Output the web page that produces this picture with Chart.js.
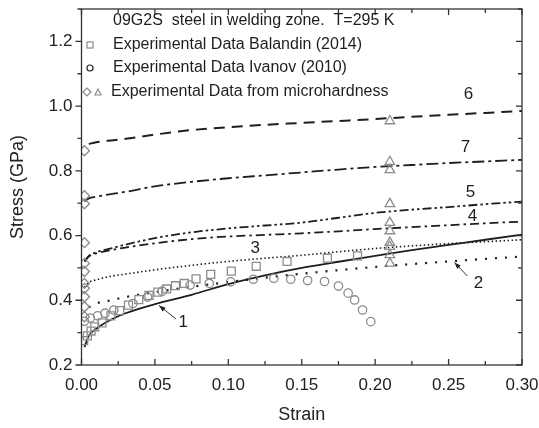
<!DOCTYPE html>
<html>
<head>
<meta charset="utf-8">
<script src="https://cdn.jsdelivr.net/npm/chart.js@4.4.1/dist/chart.umd.min.js"></script>
<style>
  html, body { margin: 0; padding: 0; background: #fff; }
  #wrap { width: 539px; height: 428px; }
</style>
</head>
<body>
<div id="wrap"><canvas id="stressChart"></canvas></div>
<script>
const strainGrid = [0.002, 0.005, 0.01, 0.02, 0.03, 0.05, 0.075, 0.1, 0.125, 0.15, 0.175, 0.2, 0.225, 0.25, 0.275, 0.3];

// model curves 1..7 (GPa)
const curve1 = [0.255, 0.29, 0.312, 0.34, 0.36, 0.388, 0.417, 0.45, 0.477, 0.5, 0.519, 0.537, 0.555, 0.571, 0.587, 0.603];
const curve2 = [null, 0.378, 0.39, 0.4, 0.41, 0.425, 0.442, 0.456, 0.47, 0.482, 0.493, 0.503, 0.512, 0.52, 0.528, 0.535];
const curve3 = [0.44, 0.455, 0.463, 0.474, 0.481, 0.494, 0.508, 0.52, 0.53, 0.539, 0.55, 0.56, 0.568, 0.575, 0.581, 0.587];
const curve4 = [0.52, 0.535, 0.545, 0.555, 0.563, 0.576, 0.589, 0.597, 0.602, 0.607, 0.613, 0.62, 0.626, 0.632, 0.638, 0.643];
const curve5 = [0.52, 0.537, 0.548, 0.56, 0.572, 0.592, 0.61, 0.622, 0.631, 0.64, 0.655, 0.67, 0.68, 0.688, 0.697, 0.705];
const curve6 = [null, 0.883, 0.888, 0.894, 0.899, 0.912, 0.926, 0.935, 0.942, 0.948, 0.954, 0.96, 0.967, 0.973, 0.979, 0.985];
const curve7 = [0.705, 0.715, 0.72, 0.728, 0.735, 0.752, 0.766, 0.777, 0.786, 0.795, 0.804, 0.812, 0.818, 0.824, 0.829, 0.834];

// Balandin (2014), squares
const balandinStrain = [0.0015, 0.004, 0.0065, 0.009, 0.014, 0.02, 0.026, 0.032, 0.039, 0.046, 0.052, 0.058, 0.064, 0.07, 0.078, 0.088, 0.102, 0.119, 0.14, 0.1675, 0.188];
const balandinStress = [0.275, 0.29, 0.305, 0.318, 0.33, 0.352, 0.368, 0.385, 0.402, 0.415, 0.425, 0.435, 0.445, 0.452, 0.466, 0.48, 0.49, 0.505, 0.52, 0.53, 0.537];

// Ivanov (2010), circles
const ivanovStrain = [0.002, 0.006, 0.011, 0.016, 0.022, 0.035, 0.045, 0.055, 0.074, 0.087, 0.1016, 0.117, 0.131, 0.1425, 0.154, 0.1655, 0.175, 0.1816, 0.186, 0.1914, 0.197];
const ivanovStress = [0.335, 0.345, 0.352, 0.36, 0.37, 0.39, 0.41, 0.428, 0.447, 0.452, 0.457, 0.465, 0.468, 0.465, 0.461, 0.458, 0.444, 0.422, 0.401, 0.37, 0.334];

// microhardness: diamonds at small strain, triangles at 0.21
const diamondStrain = 0.002;
const diamondStress = [0.862, 0.723, 0.698, 0.578, 0.514, 0.489, 0.452, 0.437, 0.411, 0.38, 0.349];
const triangleStrain = 0.21;
const triangleStress = [0.954, 0.828, 0.803, 0.698, 0.64, 0.614, 0.578, 0.566, 0.54, 0.514];

const xTicks = [0, 0.05, 0.1, 0.15, 0.2, 0.25, 0.3];
const yTicks = [0.2, 0.4, 0.6, 0.8, 1.0, 1.2];

const pts = (xs, ys) => xs.map((x, i) => ({ x: x, y: ys[i] })).filter(p => p.y !== null);
const curvePts = ys => pts(strainGrid, ys);

const lineCol = '#1e1e1e';
const markCol = '#8c8c8c';
const font = 'Liberation Sans, Arial, sans-serif';

function markerSet(data, style, radius) {
    return {
        data: data, showLine: false, pointStyle: style, pointRadius: radius,
        borderColor: markCol, backgroundColor: 'rgba(0,0,0,0)', pointBorderWidth: 1.3
    };
}
function curveSet(ys, dash, width) {
    return {
        data: curvePts(ys), showLine: true, pointRadius: 0, borderColor: lineCol,
        borderWidth: width, borderDash: dash, tension: 0.4, cubicInterpolationMode: 'monotone'
    };
}

// frame, tick marks, curve numbers, arrows and legend
const decor = {
    id: 'decor',
    afterDatasetsDraw(chart) {
        const c = chart.ctx, a = chart.chartArea;
        const xs = chart.scales.x, ys = chart.scales.y;
        c.save();
        c.strokeStyle = '#333';
        c.lineWidth = 1.3;
        c.strokeRect(a.left, a.top, a.right - a.left, a.bottom - a.top);
        c.beginPath();
        for (let v = 0; v <= 0.3001; v += 0.025) {
            const px = xs.getPixelForValue(v);
            const len = Math.abs(v / 0.05 - Math.round(v / 0.05)) < 1e-6 ? 6 : 4;
            c.moveTo(px, a.bottom); c.lineTo(px, a.bottom - len);
            c.moveTo(px, a.top); c.lineTo(px, a.top + len);
        }
        for (let v = 0.2; v <= 1.3001; v += 0.1) {
            const py = ys.getPixelForValue(v);
            const len = Math.abs(v / 0.2 - Math.round(v / 0.2)) < 1e-6 ? 6 : 4;
            c.moveTo(a.left, py); c.lineTo(a.left - len, py);
            c.moveTo(a.right, py); c.lineTo(a.right - len, py);
        }
        c.stroke();

        // curve numbers
        c.fillStyle = '#1e1e1e';
        c.font = '17px ' + font;
        c.textAlign = 'center';
        c.textBaseline = 'middle';
        const labels = [['1', 0.0693, 0.333], ['2', 0.2703, 0.453], ['3', 0.1183, 0.56],
                        ['4', 0.2662, 0.658], ['5', 0.2649, 0.735], ['6', 0.2635, 1.035], ['7', 0.2615, 0.874]];
        labels.forEach(l => c.fillText(l[0], xs.getPixelForValue(l[1]), ys.getPixelForValue(l[2])));

        // arrows to curves 1 and 2
        const arrow = (x0, y0, x1, y1) => {
            const p0x = xs.getPixelForValue(x0), p0y = ys.getPixelForValue(y0);
            const p1x = xs.getPixelForValue(x1), p1y = ys.getPixelForValue(y1);
            const ang = Math.atan2(p1y - p0y, p1x - p0x);
            c.lineWidth = 1;
            c.beginPath(); c.moveTo(p0x, p0y); c.lineTo(p1x, p1y); c.stroke();
            c.beginPath();
            c.moveTo(p1x, p1y);
            c.lineTo(p1x - 7 * Math.cos(ang - 0.35), p1y - 7 * Math.sin(ang - 0.35));
            c.lineTo(p1x - 7 * Math.cos(ang + 0.35), p1y - 7 * Math.sin(ang + 0.35));
            c.closePath(); c.fill();
        };
        arrow(0.0644, 0.342, 0.0528, 0.384);
        arrow(0.2628, 0.475, 0.254, 0.517);

        // legend block
        c.textAlign = 'left';
        c.font = '16px ' + font;
        c.fillText('09G2S  steel in welding zone.  T=295 K', 113, 21);
        c.fillText('Experimental Data Balandin (2014)', 113, 45);
        c.fillText('Experimental Data Ivanov (2010)', 113, 68);
        c.fillText('Experimental Data from microhardness', 111, 92);
        c.strokeStyle = markCol;
        c.lineWidth = 1.2;
        c.strokeRect(87, 42, 6, 6);
        c.strokeStyle = '#222';
        c.beginPath(); c.arc(90, 68, 3, 0, Math.PI * 2); c.stroke();
        c.strokeStyle = markCol;
        c.beginPath(); c.moveTo(87, 88); c.lineTo(91, 92); c.lineTo(87, 96); c.lineTo(83, 92); c.closePath(); c.stroke();
        c.beginPath(); c.moveTo(98, 89); c.lineTo(101, 95); c.lineTo(95, 95); c.closePath(); c.stroke();
        c.restore();
    }
};

const ctx = document.getElementById('stressChart').getContext('2d');
new Chart(ctx, {
    type: 'scatter',
    data: {
        datasets: [
            markerSet(pts(balandinStrain, balandinStress), 'rect', 5.6),
            markerSet(pts(ivanovStrain, ivanovStress), 'circle', 4.2),
            markerSet(diamondStress.map(v => ({ x: diamondStrain, y: v })), 'rectRot', 5),
            markerSet(triangleStress.map(v => ({ x: triangleStrain, y: v })), 'triangle', 5.5),
            curveSet(curve1, [], 1.8),
            curveSet(curve2, [2, 8], 2.2),
            curveSet(curve3, [1.5, 2.5], 1.6),
            curveSet(curve4, [9, 4, 2.5, 4], 1.8),
            curveSet(curve5, [9, 3, 2.5, 3, 2.5, 3], 1.8),
            curveSet(curve6, [11, 7], 2),
            curveSet(curve7, [12, 4, 3, 4], 1.8)
        ]
    },
    options: {
        responsive: true,
        maintainAspectRatio: false,
        animation: false,
        layout: { padding: { left: 0, right: 17, top: 9, bottom: 0 } },
        plugins: { legend: { display: false }, tooltip: { enabled: false } },
        scales: {
            x: {
                type: 'linear', min: 0, max: 0.3,
                afterBuildTicks: s => { s.ticks = xTicks.map(v => ({ value: v })); },
                afterFit: s => { s.height = 63; s.paddingLeft = 0; s.paddingRight = 0; },
                grid: { display: false, drawTicks: false },
                border: { display: false },
                ticks: { color: '#222', padding: 10, font: { family: font, size: 17 }, callback: v => v.toFixed(2) },
                title: { display: true, text: 'Strain', color: '#222', padding: { top: 0, bottom: 2 }, font: { family: font, size: 18 } }
            },
            y: {
                type: 'linear', min: 0.2, max: 1.3,
                afterBuildTicks: s => { s.ticks = yTicks.map(v => ({ value: v })); },
                afterFit: s => { s.width = 81.5; s.paddingTop = 0; s.paddingBottom = 0; },
                grid: { display: false, drawTicks: false },
                border: { display: false },
                ticks: { color: '#222', padding: 9, font: { family: font, size: 17 }, callback: v => v.toFixed(1) },
                title: { display: true, text: 'Stress (GPa)', color: '#222', padding: { top: 7, bottom: 0 }, font: { family: font, size: 18 } }
            }
        }
    },
    plugins: [decor]
});
</script>
</body>
</html>
